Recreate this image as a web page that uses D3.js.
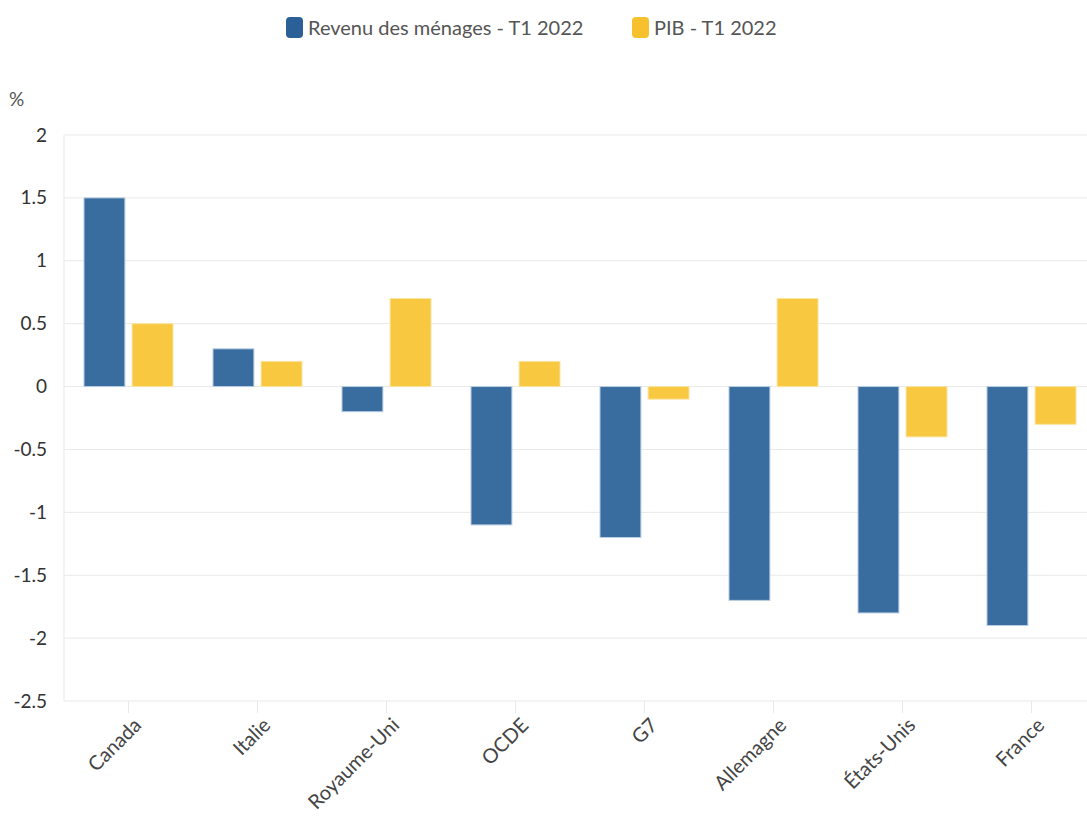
<!DOCTYPE html>
<html>
<head>
<meta charset="utf-8">
<script src="https://cdn.jsdelivr.net/npm/d3@7"></script>
<style>
  body { margin: 0; background: #fff; }
  #chart { width: 1087px; height: 816px; }
  text { font-family: Lato, "Open Sans", sans-serif; }
</style>
</head>
<body>
<div id="chart"></div>
<script>
// data
var categories = ['Canada', 'Italie', 'Royaume-Uni', 'OCDE', 'G7', 'Allemagne', 'États-Unis', 'France'];
var seriesNames = ['Revenu des ménages - T1 2022', 'PIB - T1 2022'];
var revenuValues = [1.5, 0.3, -0.2, -1.1, -1.2, -1.7, -1.8, -1.9];
var pibValues = [0.5, 0.2, 0.7, 0.2, -0.1, 0.7, -0.4, -0.3];
var yTicks = [2, 1.5, 1, 0.5, 0, -0.5, -1, -1.5, -2, -2.5];

var seriesColors = ['#3a6d9f', '#f8c840'];
var legendColors = ['#2a5f97', '#f7c02d'];

var rows = categories.map(function(c, i) {
    return { cat: c, values: [revenuValues[i], pibValues[i]] };
});

//sizes
var outerW = 1087,
    outerH = 816;
var margin = { left: 64, right: -9, top: 135, bottom: 115 };
var w = outerW - margin.left - margin.right,
    h = outerH - margin.top - margin.bottom;

var svg = d3.select('#chart').append('svg')
    .attr('width', outerW)
    .attr('height', outerH);

//scales
var x0 = d3.scaleBand().domain(categories).range([0, w]).paddingInner(0.31).paddingOuter(0.155);
var x1 = d3.scaleBand().domain([0, 1]).range([0, x0.bandwidth()]).paddingInner(0.15);
var y = d3.scaleLinear().domain([-2.5, 2]).range([h, 0]);

var g = svg.append('g')
    .attr('transform', 'translate(' + margin.left + ',' + margin.top + ')');

// grid
g.selectAll('.grid')
    .data(yTicks)
    .enter()
    .append('line')
    .attr('class', 'grid')
    .attr('x1', 0)
    .attr('x2', w)
    .attr('y1', function(d) { return y(d); })
    .attr('y2', function(d) { return y(d); })
    .attr('stroke', '#e9e9e9')
    .attr('stroke-width', 1);

// left axis line
g.append('line')
    .attr('x1', 0).attr('x2', 0)
    .attr('y1', y(2)).attr('y2', y(-2.5))
    .attr('stroke', '#e9e9e9');

// y axis labels (plain hyphen, like the original)
var yAxis = d3.axisLeft(y)
    .tickValues(yTicks)
    .tickSize(0)
    .tickPadding(17)
    .tickFormat(function(d) { return String(d); });

var yG = g.append('g').call(yAxis);
yG.select('.domain').remove();
yG.selectAll('text')
    .attr('font-size', 19)
    .attr('fill', '#333');

g.append('text')
    .attr('x', -55)
    .attr('y', -29)
    .attr('font-size', 19)
    .attr('fill', '#555')
    .text('%');

// x axis
var xAxis = d3.axisBottom(x0).tickSize(12).tickSizeOuter(0);
var xG = g.append('g')
    .attr('transform', 'translate(0,' + h + ')')
    .call(xAxis);
xG.select('.domain').remove();
xG.selectAll('.tick line').attr('stroke', '#e9e9e9');
xG.selectAll('.tick text')
    .attr('font-size', 20)
    .attr('fill', '#444')
    .attr('text-anchor', 'end')
    .attr('x', -8)
    .attr('y', 28)
    .attr('dy', 0)
    .attr('transform', 'rotate(-45)');

// bars
var groups = g.selectAll('.group')
    .data(rows)
    .enter()
    .append('g')
    .attr('class', 'group')
    .attr('transform', function(d) { return 'translate(' + x0(d.cat) + ',0)'; });

groups.selectAll('rect')
    .data(function(d) { return d.values.map(function(v, i) { return { i: i, v: v }; }); })
    .enter()
    .append('rect')
    .attr('x', function(d) { return x1(d.i); })
    .attr('width', x1.bandwidth())
    .attr('y', function(d) { return y(Math.max(0, d.v)); })
    .attr('height', function(d) { return Math.abs(y(d.v) - y(0)); })
    .attr('fill', function(d) { return seriesColors[d.i]; })
    .attr('stroke', function(d) { return d.i == 0 ? '#b9cde3' : '#fbe3a0'; })
    .attr('stroke-width', 1);

// legend
var legend = svg.append('g');
var legendX = [286, 632];
seriesNames.forEach(function(name, i) {
    legend.append('rect')
        .attr('x', legendX[i])
        .attr('y', 17)
        .attr('width', 17)
        .attr('height', 21)
        .attr('rx', 4)
        .attr('fill', legendColors[i]);
    legend.append('text')
        .attr('x', legendX[i] + 22)
        .attr('y', 35)
        .attr('font-size', 20)
        .attr('fill', '#555')
        .text(name);
});
</script>
</body>
</html>
